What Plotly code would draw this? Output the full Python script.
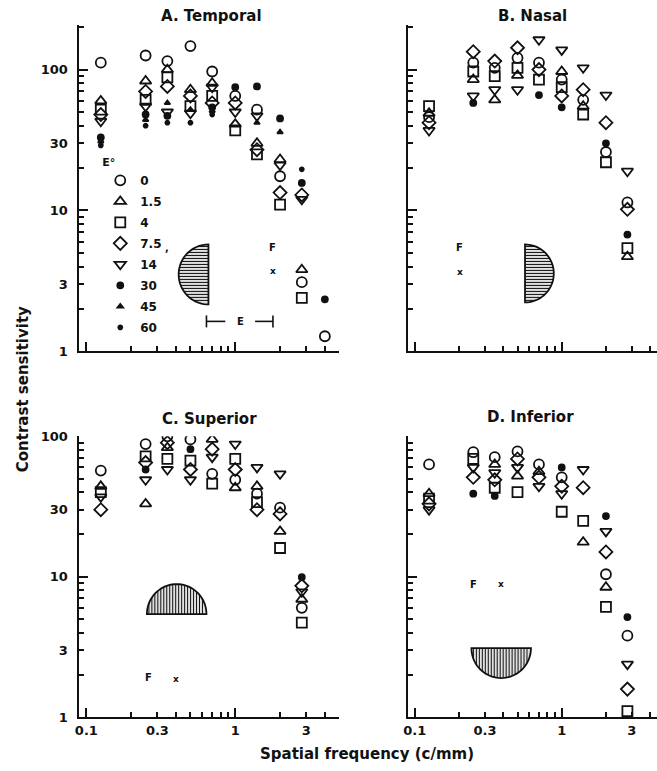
import numpy as np
import plotly.graph_objects as go

W, H = 657, 771
N = None

# ---------------- data ----------------
freq = [0.125, 0.25, 0.35, 0.5, 0.7, 1.0, 1.4, 2.0, 2.8, 4.0]
ecc_labels = ["0", "1.5", "4", "7.5", "14", "30", "45", "60"]

temporal = {
    "0":   [112, 126, 115, 147, 97, 65, 52, 17.5, 3.1, 1.28],
    "1.5": [60, 83, 100, 72, 80, 41, 30, 23, 3.8, N],
    "4":   [52, 61, 88, 55, 65, 37, 25, 11, 2.4, N],
    "7.5": [48, 70, 76, 65, 58, 58, 27, 13.4, 12.9, N],
    "14":  [43, 55, 50, 49, 75, 50, 47, 21, 12.0, N],
    "30":  [33, 48, 47, N, 54, 75, 76, 45, 15.7, 2.34],
    "45":  [31, 44, 58, 52, 51, N, 42, 36, N, N],
    "60":  [29, 40, 42, 42, 48, N, N, N, 19.6, N],
}
nasal = {
    "0":   [46, 112, 103, 121, 112, 85, 61, 26, 11.4, N],
    "1.5": [49, 85, 61, 91, N, 97, 55, N, 4.7, N],
    "4":   [55, 97, 90, 103, 85, 75, 48, 22, 5.4, N],
    "7.5": [42, 134, 115, 143, 100, 65, 72, 42, 10.2, N],
    "14":  [37, 65, 72, 72, 163, 138, 103, 66, 19, N],
    "30":  [N, 58, N, N, 66, 54, N, 30, 6.75, N],
    "45":  [N] * 10,
    "60":  [N] * 10,
}
superior = {
    "0":   [57, 88, 100, 95, 54, 49, 39, 31, 6.0, N],
    "1.5": [44, 33, 83, N, 95, 43, 44, 21, 6.9, N],
    "4":   [40, 72, 69, 67, 46, 69, 34, 16, 4.7, N],
    "7.5": [30, 65, 90, 58, 81, 58, 30, 28, 8.6, N],
    "14":  [37, 49, 58, 49, 71, 88, 60, 54, 7.8, N],
    "30":  [N, 58, N, 81, N, N, N, N, 9.9, N],
    "45":  [N] * 10,
    "60":  [N] * 10,
}
inferior = {
    "0":   [63, 77, 71, 78, 63, 51, N, 10.4, 3.8, N],
    "1.5": [39, N, 63, 52, 56, N, 17.6, 8.4, N, N],
    "4":   [36, 69, 43, 40, N, 29, 25, 6.1, 1.1, N],
    "7.5": [33, 51, 49, 69, 51, 44, 43, 15, 1.58, N],
    "14":  [30, 60, 55, 60, 44, 39, 58, 21, 2.38, N],
    "30":  [N, 39, 37.6, N, N, 60, N, 27, 5.15, N],
    "45":  [N] * 10,
    "60":  [N] * 10,
}

x_tick_vals = [0.1, 0.3, 1, 3]
x_tick_text = ["0.1", "0.3", "1", "3"]
x_minor_vals = [0.2, 0.4, 0.5, 0.6, 0.7, 0.8, 0.9, 2, 4, 5]
x_long_vals = [0.1, 1]
y_tick_vals = [1, 3, 10, 30, 100]
y_tick_text = ["1", "3", "10", "30", "100"]
y_minor_vals = [2, 4, 5, 6, 7, 8, 9, 20, 40, 50, 60, 70, 80, 90, 200]
y_long_vals = [1, 10, 100]

# ---------------- style ----------------
FONT = "DejaVu Sans"
BLK = "#111111"
marker_style = {
    "0":   dict(symbol="circle-open", size=10),
    "1.5": dict(symbol="triangle-up-open", size=10),
    "4":   dict(symbol="square-open", size=10),
    "7.5": dict(symbol="diamond-open", size=10),
    "14":  dict(symbol="triangle-down-open", size=10),
    "30":  dict(symbol="circle", size=6),
    "45":  dict(symbol="triangle-up", size=5),
    "60":  dict(symbol="circle", size=4),
}


def px(x):
    return x / W


def py(y):
    # vertical placement helper (pixel row -> paper fraction)
    y = (y - 7.3) / 0.9815
    return 1 - y / H


panels = [
    dict(title="A. Temporal", data=temporal, box=(75, 337, 25, 352),
         xr=(-1.0467, 0.70), yr=(0, 2.319), xlab=False, ylab=True, tpos=(208, 16)),
    dict(title="B. Nasal", data=nasal, box=(406, 657, 25, 352),
         xr=(-1.047, 0.6486), yr=(0, 2.319), xlab=False, ylab=False, tpos=(532, 16)),
    dict(title="C. Superior", data=superior, box=(75, 337, 437, 718),
         xr=(-1.0467, 0.70), yr=(0, 2.0), xlab=True, ylab=True, tpos=(206, 420)),
    dict(title="D. Inferior", data=inferior, box=(406, 657, 437, 718),
         xr=(-1.047, 0.6486), yr=(0, 2.0), xlab=True, ylab=False, tpos=(530, 418)),
]

fig = go.Figure()
layout = {}
annotations = []
shapes = []
tickfont = dict(family=FONT, size=13, color=BLK, weight="bold")

for i, p in enumerate(panels, start=1):
    xs = "x" if i == 1 else f"x{i}"
    ys = "y" if i == 1 else f"y{i}"
    x0, x1, yt, yb = p["box"]
    for ecc in ecc_labels:
        st = marker_style[ecc]
        fig.add_trace(go.Scatter(
            x=freq, y=p["data"][ecc], mode="markers", name=ecc,
            legendgroup=ecc, showlegend=(i == 1), xaxis=xs, yaxis=ys,
            marker=dict(symbol=st["symbol"], size=st["size"], color=BLK,
                        line=dict(color=BLK, width=1.8)),
        ))
    layout["xaxis" if i == 1 else f"xaxis{i}"] = dict(
        type="log", range=list(p["xr"]), domain=[px(x0), px(x1)], anchor=ys,
        showline=True, linecolor=BLK, linewidth=2, showgrid=False, zeroline=False,
        ticks="inside", ticklen=5, tickwidth=1.5, tickcolor=BLK,
        tickvals=x_tick_vals, ticktext=x_tick_text, showticklabels=p["xlab"],
        tickfont=tickfont,
        minor=dict(tickvals=x_minor_vals, ticks="inside", ticklen=5,
                   tickwidth=1.5, tickcolor=BLK, showgrid=False),
    )
    layout["yaxis" if i == 1 else f"yaxis{i}"] = dict(
        type="log", range=list(p["yr"]), domain=[py(yb), py(yt)], anchor=xs,
        showline=True, linecolor=BLK, linewidth=2, showgrid=False, zeroline=False,
        ticks="inside", ticklen=5, tickwidth=1.5, tickcolor=BLK,
        tickvals=y_tick_vals, ticktext=y_tick_text, showticklabels=p["ylab"],
        tickfont=tickfont, ticklabelstandoff=7,
        minor=dict(tickvals=y_minor_vals, ticks="inside", ticklen=5,
                   tickwidth=1.5, tickcolor=BLK, showgrid=False),
    )
    # overlay axes carrying the long decade ticks
    j = i + 4
    fig.add_trace(go.Scatter(x=[None], y=[None], xaxis=f"x{j}", yaxis=f"y{j}",
                             showlegend=False, hoverinfo="skip", mode="markers"))
    layout[f"xaxis{j}"] = dict(
        type="log", range=list(p["xr"]), overlaying=xs, anchor=ys, side="bottom",
        showline=False, showgrid=False, zeroline=False, ticks="inside", ticklen=9,
        tickwidth=1.5, tickcolor=BLK, tickvals=x_long_vals, showticklabels=False)
    layout[f"yaxis{j}"] = dict(
        type="log", range=list(p["yr"]), overlaying=ys, anchor=xs, side="left",
        showline=False, showgrid=False, zeroline=False, ticks="inside", ticklen=9,
        tickwidth=1.5, tickcolor=BLK, tickvals=y_long_vals, showticklabels=False)
    annotations.append(dict(
        text=p["title"], x=px(p["tpos"][0]), y=py(p["tpos"][1]), xref="paper",
        yref="paper", showarrow=False, xanchor="center", yanchor="middle",
        font=dict(family=FONT, size=15, color=BLK, weight="bold")))


# ---------------- decorations (stimulus icons) ----------------
def semicircle(cx, cy, r, orient, step=3.0):
    t = np.linspace(0, np.pi, 41)
    if orient == "left":
        pts = [(cx - r * np.sin(a), cy - r * np.cos(a)) for a in t]
    elif orient == "right":
        pts = [(cx + r * np.sin(a), cy - r * np.cos(a)) for a in t]
    elif orient == "up":
        pts = [(cx - r * np.cos(a), cy - r * np.sin(a)) for a in t]
    else:
        pts = [(cx - r * np.cos(a), cy + r * np.sin(a)) for a in t]
    path = "M " + " L ".join(f"{px(a):.5f},{py(b):.5f}" for a, b in pts) + " Z"
    shapes.append(dict(type="path", path=path, xref="paper", yref="paper",
                       line=dict(color=BLK, width=1.8),
                       fillcolor="rgba(0,0,0,0.12)"))
    hatch = []
    for d in np.arange(-r + 2, r - 1, step):
        half = np.sqrt(r * r - d * d)
        if orient == "left":
            a0, b0, a1, b1 = cx - half, cy + d, cx, cy + d
        elif orient == "right":
            a0, b0, a1, b1 = cx, cy + d, cx + half, cy + d
        elif orient == "up":
            a0, b0, a1, b1 = cx + d, cy - half, cx + d, cy
        else:
            a0, b0, a1, b1 = cx + d, cy, cx + d, cy + half
        hatch.append(f"M {px(a0):.5f},{py(b0):.5f} L {px(a1):.5f},{py(b1):.5f}")
    shapes.append(dict(type="path", path=" ".join(hatch), xref="paper",
                       yref="paper", line=dict(color=BLK, width=1.0)))


semicircle(205, 275, 30, "left")
semicircle(524, 274, 29, "right")
semicircle(173, 615, 30, "up")
semicircle(500, 649, 30, "down")


def seg(xa, ya, xb, yb, w=1.6):
    shapes.append(dict(type="line", x0=px(xa), y0=py(ya), x1=px(xb), y1=py(yb),
                       xref="paper", yref="paper", line=dict(color=BLK, width=w)))


# E bracket in panel A
seg(203, 322, 222, 322)
seg(203, 316, 203, 328)
seg(252, 322, 270, 322)
seg(270, 316, 270, 328)


def note(text, x, y, size=11, angle=0):
    annotations.append(dict(text=text, x=px(x), y=py(y), xref="paper", yref="paper",
                            showarrow=False, xanchor="center", yanchor="middle",
                            textangle=angle,
                            font=dict(family=FONT, size=size, color=BLK, weight="bold")))


note("E", 237, 322, 10)
note("F", 270, 248, 10)
note("x", 270, 272, 9)
note(",", 163, 248, 10)
note("F", 458, 248, 10)
note("x", 458, 273, 9)
note("F", 145, 678, 10)
note("x", 172, 680, 9)
note("F", 472, 585, 10)
note("x", 500, 585, 9)

note("Contrast sensitivity", 18, 390, 15, -90)
note("Spatial frequency (c/mm)", 365, 755, 15)

fig.update_layout(
    width=W, height=H, margin=dict(l=0, r=0, t=0, b=0),
    paper_bgcolor="white", plot_bgcolor="rgba(0,0,0,0)",
    font=dict(family=FONT, color=BLK),
    showlegend=True,
    legend=dict(x=px(96), y=py(152), xanchor="left", yanchor="top",
                bgcolor="rgba(0,0,0,0)", borderwidth=0, itemwidth=30,
                tracegroupgap=2,
                title=dict(text="E°", font=dict(family=FONT, size=11, color=BLK, weight="bold")),
                font=dict(family=FONT, size=12, color=BLK, weight="bold")),
    annotations=annotations, shapes=shapes,
    **layout,
)

fig.write_html("out.html", config={"displayModeBar": False},
               post_script="document.body.style.margin='0px';")
